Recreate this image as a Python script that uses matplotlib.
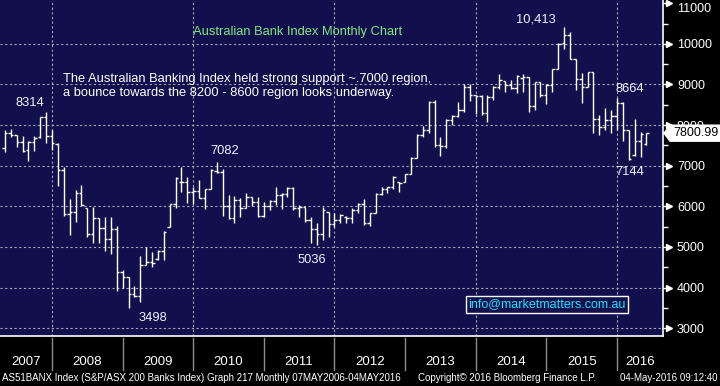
import matplotlib
matplotlib.use("Agg")
import matplotlib.pyplot as plt
import matplotlib.transforms as mtransforms
from matplotlib.patches import Polygon

# Monthly bars, Apr 2007 .. May 2016
months = (
    [f"2007-{m:02d}" for m in range(4, 13)]
    + [f"{y}-{m:02d}" for y in range(2008, 2016) for m in range(1, 13)]
    + [f"2016-{m:02d}" for m in range(1, 6)]
)

opens = [
    7430, 7810, 7755, 7590, 7380, 7580, 7700, 8190, 7720,
    7540, 6900, 5800, 5850, 6330, 5950, 5320, 5700, 5470, 5190, 5430, 4390,
    4250, 3830, 3800, 4550, 4620, 4700, 4900, 5500, 6050, 6600, 6600, 6350,
    6380, 6200, 6420, 6880, 6850, 6000, 5720, 6150, 5950, 6230, 6110, 5760,
    6000, 6140, 6280, 6300, 6460, 5950, 5990, 5660, 5450, 5330, 5850, 5560,
    5660, 5740, 5700, 5910, 6050, 5590, 5830, 6300, 6420, 6470, 6600, 6600,
    6790, 7200, 7760, 7880, 8580, 7520, 7490, 8130, 8220, 8380, 8950, 8740,
    8720, 8290, 8700, 8940, 9080, 8990, 8920, 9160, 9180, 8480, 9050, 8740,
    8990, 9370, 10010, 10220, 9640, 9130, 8950, 9300, 8140, 7950, 8130, 8220,
    8540, 7880, 7270, 7620, 7530,
]
highs = [
    7880, 7895, 7760, 7720, 7620, 7720, 8210, 8314, 7890,
    7560, 6980, 6180, 6400, 6520, 5960, 5990, 5720, 5745, 5730, 5515, 4430,
    4260, 4040, 4780, 4990, 4880, 4920, 5390, 6060, 6730, 6960, 6710, 6480,
    6660, 6420, 6910, 7082, 6910, 6280, 6250, 6200, 6340, 6240, 6240, 6115,
    6155, 6480, 6320, 6480, 6480, 6030, 5990, 5745, 5580, 5975, 5870, 5830,
    5810, 5750, 5950, 6090, 6170, 5840, 6320, 6470, 6480, 6750, 6610, 6800,
    7220, 7780, 7980, 8600, 8616, 7700, 8150, 8250, 8560, 9000, 9000, 8740,
    8740, 8730, 8960, 9250, 9090, 9110, 9235, 9260, 9180, 9070, 9070, 9000,
    9380, 10030, 10413, 10300, 9640, 9290, 9320, 9320, 8250, 8410, 8360, 8664,
    8560, 7880, 8140, 7840, 7810,
]
lows = [
    7345, 7715, 7470, 7345, 7120, 7350, 7690, 7550, 7390,
    6510, 5770, 5290, 5620, 6030, 5250, 5090, 5100, 4900, 4820, 3920, 3980,
    3498, 3770, 3650, 4550, 4510, 4690, 4690, 5500, 5950, 6360, 6070, 6060,
    6200, 5930, 6420, 6830, 5750, 5680, 5580, 5730, 5950, 6010, 5745, 5745,
    5910, 6030, 5925, 6240, 5910, 5745, 5620, 5100, 5036, 5170, 5250, 5500,
    5580, 5580, 5600, 5830, 5540, 5515, 5830, 6280, 6320, 6420, 6360, 6600,
    6790, 7200, 7700, 7800, 7470, 7240, 7440, 8000, 8200, 8330, 8590, 8270,
    8260, 8080, 8620, 8890, 8810, 8890, 8780, 8810, 8330, 8370, 8680, 8510,
    8820, 9370, 9870, 9620, 8860, 8540, 8940, 7810, 7760, 7880, 7800, 7880,
    7620, 7144, 7240, 7210, 7520,
]
closes = [
    7810, 7755, 7590, 7370, 7580, 7680, 8190, 7720, 7560,
    6900, 5800, 5850, 6330, 6040, 5320, 5720, 5470, 5190, 5430, 4390, 4250,
    3830, 3800, 4550, 4620, 4600, 4900, 5370, 6050, 6700, 6600, 6350, 6380,
    6200, 6420, 6890, 6850, 6000, 5720, 6150, 5950, 6230, 6110, 5760, 6000,
    6140, 6280, 6300, 6460, 5950, 5990, 5660, 5450, 5330, 5910, 5560, 5660,
    5790, 5700, 5910, 6050, 5590, 5830, 6300, 6420, 6470, 6720, 6580, 6790,
    7200, 7760, 7880, 8580, 7520, 7490, 8130, 8220, 8380, 8950, 8740, 8720,
    8290, 8700, 8940, 9100, 8990, 8920, 9220, 9180, 8480, 9050, 8740, 8990,
    9370, 10000, 10220, 9640, 9130, 8950, 9300, 8140, 7950, 8130, 8220, 8540,
    7880, 7160, 7620, 7790, 7800.99,
]

years = list(range(2007, 2017))
y_ticks = list(range(3000, 12000, 1000))
grid_years = [2008, 2010, 2012, 2014, 2016]

# label text, month of the bar it belongs to, value, offset in pixels
callouts = [
    ("8314", "2007-11", 8314, (-16, 9)),
    ("7082", "2010-04", 7082, (8, 11)),
    ("3498", "2009-01", 3498, (24, -10)),
    ("5036", "2011-09", 5036, (-5, -15)),
    ("10,413", "2015-03", 10413, (-28, 8)),
    ("8664", "2015-12", 8664, (13, 9)),
    ("7144", "2016-02", 7144, (1, -12)),
]

BG = "#120f4d"
FONT = ["Liberation Sans", "DejaVu Sans"]
plt.rcParams["font.family"] = FONT


def month_pos(label):
    # bars sit at month end: Dec 2007 -> 0, Jan 2008 -> 1
    y, m = label.split("-")
    return (int(y) - 2008) * 12 + int(m)


xs = [month_pos(m) for m in months]

fig = plt.figure(figsize=(7.2, 3.86), dpi=100, facecolor="black")
ax = fig.add_axes([0, 50 / 386, 663 / 720, 336 / 386])
ax.set_facecolor(BG)
ax.set_xlim(-52 / 5.885, (663 - 52) / 5.885)
ax.set_ylim(2806, 11081)

for v in y_ticks[:-1]:
    ax.axhline(v, color="#a6a6b6", lw=0.8, ls=(0, (2, 2.2)), zorder=1)
for yr in grid_years:
    ax.axvline((yr - 2008) * 12, color="#a6a6b6", lw=0.8, ls=(0, (2, 2.2)), zorder=1)

# OHLC bars
tick = 0.42
ax.vlines(xs, lows, highs, color="white", lw=1.0, zorder=3)
ax.hlines(opens, [x - tick for x in xs], xs, color="white", lw=1.0, zorder=3)
ax.hlines(closes, xs, [x + tick for x in xs], color="white", lw=1.0, zorder=3)

for spine in ("left", "top"):
    ax.spines[spine].set_visible(False)
for spine in ("bottom", "right"):
    ax.spines[spine].set_color("white")
    ax.spines[spine].set_linewidth(1.2)

ax.set_xticks([])
ax.yaxis.tick_right()
ax.set_yticks(y_ticks)
ax.set_yticks([v + 500 for v in y_ticks[:-1]], minor=True)
ax.tick_params(axis="y", which="major", length=5, width=1, color="white",
               labelcolor="white", labelsize=9, pad=5)
ax.tick_params(axis="y", which="minor", length=3.5, width=1, color="white")
ax.get_yticklabels()[-1].set_va("top")

right = mtransforms.blended_transform_factory(ax.transAxes, ax.transData)
ax.plot([1 + 6 / 663] * len(y_ticks), y_ticks, ls="none", marker=">", ms=4,
        color="white", transform=right, clip_on=False, zorder=5)

# year band below the plot
band = mtransforms.blended_transform_factory(ax.transData, fig.transFigure)
x0, x1 = ax.get_xlim()
edges = [x0] + [(yr - 2008) * 12 for yr in years[1:]] + [x1]
for e in edges[1:-1]:
    ax.plot([e, e], [1 - 338 / 386, 1 - 370 / 386], color="#8c8c8c", lw=1.0,
            transform=band, clip_on=False)
for yr, a, b in zip(years, edges[:-1], edges[1:]):
    ax.text((a + b) / 2, 1 - 362 / 386, str(yr), transform=band, ha="center",
            va="center", color="white", fontsize=9.5)

# high / low callouts
for text, month, value, (dx, dy) in callouts:
    ax.annotate(text, (month_pos(month), value), xytext=(dx, dy),
                textcoords="offset pixels", ha="center", va="center",
                color="#eef0ff", fontsize=9.3, zorder=6)

# last price flag (covers most of the 8000 label, as on the original)
last_y = ax.transData.transform((0, closes[-1]))[1]
flag = Polygon([(664, last_y), (670, last_y + 8), (720, last_y + 8),
                (720, last_y - 8), (670, last_y - 8)], closed=True,
               facecolor="white", edgecolor="white",
               transform=mtransforms.IdentityTransform(), zorder=10)
fig.add_artist(flag)
fig.text(673 / 720, last_y / 386, f"{closes[-1]:.2f}", ha="left", va="center",
         color="black", fontsize=9, zorder=11)

fig.text(298 / 720, 1 - 32 / 386, "Australian Bank Index Monthly Chart",
         ha="center", va="center", color="#7fe87f", fontsize=9.3)
fig.text(63 / 720, 1 - 86 / 386,
         "The Australian Banking Index held strong support ~.7000 region,\n"
         "a bounce towards the 8200 - 8600 region looks underway.",
         ha="left", va="center", color="white", fontsize=9.3, linespacing=1.25)
fig.text(547 / 720, 1 - 304 / 386, "info@marketmatters.com.au", ha="center",
         va="center", color="#19e3ff", fontsize=9,
         bbox=dict(boxstyle="square,pad=0.2", fc=BG, ec="white", lw=1.0))

# footer
fig.text(2 / 720, 1 - 378 / 386,
         "AS51BANX Index (S&P/ASX 200 Banks Index) Graph 217 Monthly 07MAY2006-04MAY2016",
         ha="left", va="center", color="white", fontsize=7)
fig.text(418 / 720, 1 - 378 / 386, "Copyright\u00a9 2016 Bloomberg Finance L.P.",
         ha="left", va="center", color="white", fontsize=7)
fig.text(718 / 720, 1 - 378 / 386, "04-May-2016 09:12:40", ha="right",
         va="center", color="white", fontsize=7)

fig.savefig("out.png", dpi=100, facecolor=fig.get_facecolor())
